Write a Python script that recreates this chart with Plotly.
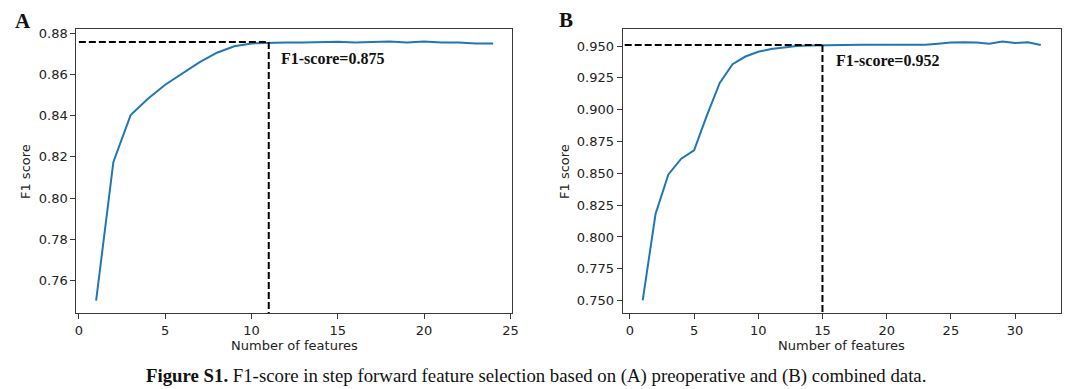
import plotly.graph_objects as go

# ---------------- data ----------------
a_features = list(range(1, 25))
a_f1 = [0.7504, 0.8176, 0.8403, 0.8482, 0.8550, 0.8603, 0.8659, 0.8705, 0.8736, 0.8750,
        0.8754, 0.8755, 0.8755, 0.8758, 0.8758, 0.8754, 0.8758, 0.8760, 0.8754, 0.8760,
        0.8755, 0.8755, 0.8750, 0.8750]
a_best_n = 11
a_best_score = 0.8757
a_label = "F1-score=0.875"

b_features = list(range(1, 33))
b_f1 = [0.7502, 0.8180, 0.8491, 0.8615, 0.8680, 0.8955, 0.9210, 0.9358, 0.9418, 0.9456,
        0.9477, 0.9488, 0.9500, 0.9505, 0.9507, 0.9510, 0.9510, 0.9510, 0.9510, 0.9510,
        0.9510, 0.9510, 0.9510, 0.9519, 0.9529, 0.9531, 0.9529, 0.9519, 0.9536, 0.9524,
        0.9531, 0.9508]
b_best_n = 15
b_best_score = 0.9508
b_label = "F1-score=0.952"

a_xticks = [0, 5, 10, 15, 20, 25]
a_yticks = [0.76, 0.78, 0.80, 0.82, 0.84, 0.86, 0.88]
b_xticks = [0, 5, 10, 15, 20, 25, 30]
b_yticks = [0.750, 0.775, 0.800, 0.825, 0.850, 0.875, 0.900, 0.925, 0.950]

caption_bold = "Figure S1."
caption_text = " F1-score in step forward feature selection based on (A) preoperative and (B) combined data."

# ---------------- layout geometry ----------------
W, H = 1080, 389
a_xrange = [-0.14, 25.12]
a_yrange = [0.7444, 0.8821]
b_xrange = [-0.56, 33.56]
b_yrange = [0.7403, 0.9636]

def px_x(p):
    return p / W

def px_y(p):
    return 1 - p / H

a_dom_x = [px_x(75), px_x(514.3)]
b_dom_x = [px_x(625.3), px_x(1066.7)]
dom_y = [px_y(312.3), px_y(26)]

LINE = "#1f77b4"
SPINE = "#3a3a3a"
TXT = "#222222"
tick_font = dict(family="DejaVu Sans", size=13, color=TXT)

fig = go.Figure()

# Panel A
fig.add_trace(go.Scatter(x=a_features, y=a_f1, mode="lines",
                         line=dict(color=LINE, width=2), xaxis="x", yaxis="y",
                         showlegend=False, hoverinfo="x+y"))
fig.add_trace(go.Scatter(x=[0, a_best_n], y=[a_best_score, a_best_score], mode="lines",
                         line=dict(color="black", width=2, dash="7px,3px"),
                         xaxis="x", yaxis="y", showlegend=False, hoverinfo="skip"))
fig.add_trace(go.Scatter(x=[a_best_n, a_best_n], y=[a_best_score, a_yrange[0]], mode="lines",
                         line=dict(color="black", width=2, dash="7px,3px"),
                         xaxis="x", yaxis="y", showlegend=False, hoverinfo="skip"))

# Panel B
fig.add_trace(go.Scatter(x=b_features, y=b_f1, mode="lines",
                         line=dict(color=LINE, width=2), xaxis="x2", yaxis="y2",
                         showlegend=False, hoverinfo="x+y"))
fig.add_trace(go.Scatter(x=[-0.4, b_best_n], y=[b_best_score, b_best_score], mode="lines",
                         line=dict(color="black", width=2, dash="7px,3px"),
                         xaxis="x2", yaxis="y2", showlegend=False, hoverinfo="skip"))
fig.add_trace(go.Scatter(x=[b_best_n, b_best_n], y=[b_best_score, b_yrange[0]], mode="lines",
                         line=dict(color="black", width=2, dash="7px,3px"),
                         xaxis="x2", yaxis="y2", showlegend=False, hoverinfo="skip"))

axis_common = dict(showgrid=False, zeroline=False, showline=True, linecolor=SPINE,
                   linewidth=1.2, mirror=True, ticks="outside", ticklen=5,
                   tickwidth=1.1, tickcolor=SPINE, tickfont=tick_font)

fig.update_layout(
    width=W, height=H,
    margin=dict(l=0, r=0, t=0, b=0),
    paper_bgcolor="white", plot_bgcolor="white",
    xaxis=dict(domain=a_dom_x, range=a_xrange, tickvals=a_xticks, anchor="y", **axis_common),
    yaxis=dict(domain=dom_y, range=a_yrange, tickvals=a_yticks, tickformat=".2f",
               anchor="x", **axis_common),
    xaxis2=dict(domain=b_dom_x, range=b_xrange, tickvals=b_xticks, anchor="y2", **axis_common),
    yaxis2=dict(domain=dom_y, range=b_yrange, tickvals=b_yticks, tickformat=".3f",
                anchor="x2", **axis_common),
)

serif = "Liberation Serif"
ann = []
# annotations inside plots
ann.append(dict(x=11.6, y=0.8676, xref="x", yref="y", text="<b>" + a_label + "</b>",
                showarrow=False, xanchor="left", yanchor="middle",
                font=dict(family=serif, size=16, color="#111")))
ann.append(dict(x=15.9, y=0.9387, xref="x2", yref="y2", text="<b>" + b_label + "</b>",
                showarrow=False, xanchor="left", yanchor="middle",
                font=dict(family=serif, size=16, color="#111")))
# panel letters
ann.append(dict(x=px_x(21.3), y=px_y(18.5), xref="paper", yref="paper", text="<b>A</b>",
                showarrow=False, xanchor="center", yanchor="middle",
                font=dict(family=serif, size=21, color="#111")))
ann.append(dict(x=px_x(568.7), y=px_y(17.5), xref="paper", yref="paper", text="<b>B</b>",
                showarrow=False, xanchor="center", yanchor="middle",
                font=dict(family=serif, size=21, color="#111")))
# axis titles
for cx in (294.7, 846):
    ann.append(dict(x=px_x(cx), y=px_y(345), xref="paper", yref="paper",
                    text="Number of features", showarrow=False,
                    xanchor="center", yanchor="middle",
                    font=dict(family="DejaVu Sans", size=13, color=TXT)))
for cx in (23, 566):
    ann.append(dict(x=px_x(cx), y=px_y(169.5), xref="paper", yref="paper",
                    text="F1 score", showarrow=False, textangle=-90,
                    xanchor="center", yanchor="middle",
                    font=dict(family="DejaVu Sans", size=13, color=TXT)))
# caption
ann.append(dict(x=px_x(538), y=px_y(376), xref="paper", yref="paper",
                text="<b>" + caption_bold + "</b>" + caption_text, showarrow=False,
                xanchor="center", yanchor="middle",
                font=dict(family=serif, size=18.8, color="#111")))
fig.update_layout(annotations=ann)

fig.write_html(
    "out.html",
    config={"displayModeBar": False},
    post_script="document.body.style.margin='0';document.body.style.padding='0';"
                "document.body.style.overflow='hidden';"
                "document.documentElement.style.overflow='hidden';",
)
